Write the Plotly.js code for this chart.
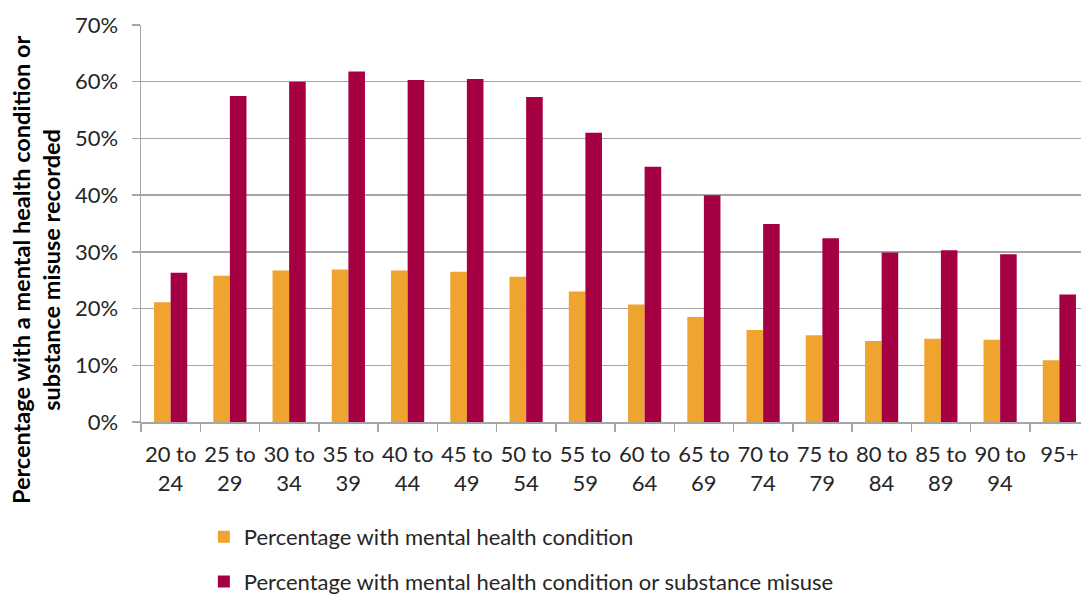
<!DOCTYPE html>
<html>
<head>
<meta charset="utf-8">
<script src="https://cdn.plot.ly/plotly-3.0.1.min.js"></script>
<style>
html,body{margin:0;padding:0;overflow:hidden;background:#fff;}
#chart{width:1096px;height:594px;}
</style>
</head>
<body>
<div id="chart"></div>
<script>
var ageBands = ["20 to<br>24","25 to<br>29","30 to<br>34","35 to<br>39","40 to<br>44","45 to<br>49","50 to<br>54","55 to<br>59","60 to<br>64","65 to<br>69","70 to<br>74","75 to<br>79","80 to<br>84","85 to<br>89","90 to<br>94","95+"];
var mentalHealth = [0.211,0.258,0.267,0.269,0.267,0.265,0.256,0.230,0.207,0.185,0.162,0.153,0.143,0.147,0.145,0.109];
var mentalOrSubstance = [0.263,0.575,0.600,0.618,0.603,0.605,0.573,0.510,0.450,0.400,0.349,0.324,0.299,0.303,0.296,0.225];
var seriesNames = ["Percentage with mental health condition","Percentage with mental health condition or substance misuse"];
var seriesColors = ["#EEA42F","#A50044"];
var yTickVals = [0,0.1,0.2,0.3,0.4,0.5,0.6,0.7];
var yTickText = ["0%","10%","20%","30%","40%","50%","60%","70%"];
var yTitle = "Percentage with a mental health condition or<br>substance misuse recorded";

var font = "Lato, 'Liberation Sans', sans-serif";
var traces = [
  {type:"bar", x:ageBands, y:mentalHealth, name:seriesNames[0], marker:{color:seriesColors[0]}, legendgroup:"a", hoverinfo:"x+y"},
  {type:"bar", x:ageBands, y:mentalOrSubstance, name:seriesNames[1], marker:{color:seriesColors[1]}, legendgroup:"b", hoverinfo:"x+y"}
];
var layout = {
  width:1096, height:594,
  margin:{l:141, r:7, t:25, b:172, autoexpand:false},
  paper_bgcolor:"#fff", plot_bgcolor:"#fff",
  font:{family:font, size:22, color:"#262626"},
  barmode:"group", bargap:0.44, bargroupgap:0,
  showlegend:true,
  legend:{orientation:"v", xref:"container", yref:"container", x:0.186, xanchor:"left", y:0.058, yanchor:"middle",
          traceorder:"grouped", tracegroupgap:13, font:{family:font, size:22, color:"#262626"}, bgcolor:"rgba(0,0,0,0)"},
  xaxis:{type:"category", showline:true, linecolor:"#A6A6A6", linewidth:1.5, ticks:"outside", tickson:"boundaries",
         ticklen:8, tickcolor:"#A6A6A6", tickwidth:1.5, showgrid:false, tickangle:0, automargin:false,
         ticklabelstandoff:12, tickfont:{family:font, size:22, color:"#262626"}, fixedrange:true},
  yaxis:{range:[0,0.7], tickvals:yTickVals, ticktext:yTickText, showline:true, linecolor:"#A6A6A6", linewidth:1.5,
         ticks:"outside", ticklen:8, tickcolor:"#A6A6A6", tickwidth:1.5, showgrid:true, gridcolor:"#A6A6A6", gridwidth:1.5,
         zeroline:false, ticklabelstandoff:9, automargin:false, tickfont:{family:font, size:22, color:"#262626"},
         fixedrange:true},
  annotations:[{text:yTitle, textangle:-90, xref:"paper", yref:"paper", x:-0.1108, y:0.385,
                xanchor:"center", yanchor:"middle", showarrow:false, align:"center",
                font:{family:font, size:23.5, color:"#000", weight:"bold"}}]
};
Plotly.newPlot("chart", traces, layout, {displayModeBar:false, staticPlot:true});
</script>
</body>
</html>
